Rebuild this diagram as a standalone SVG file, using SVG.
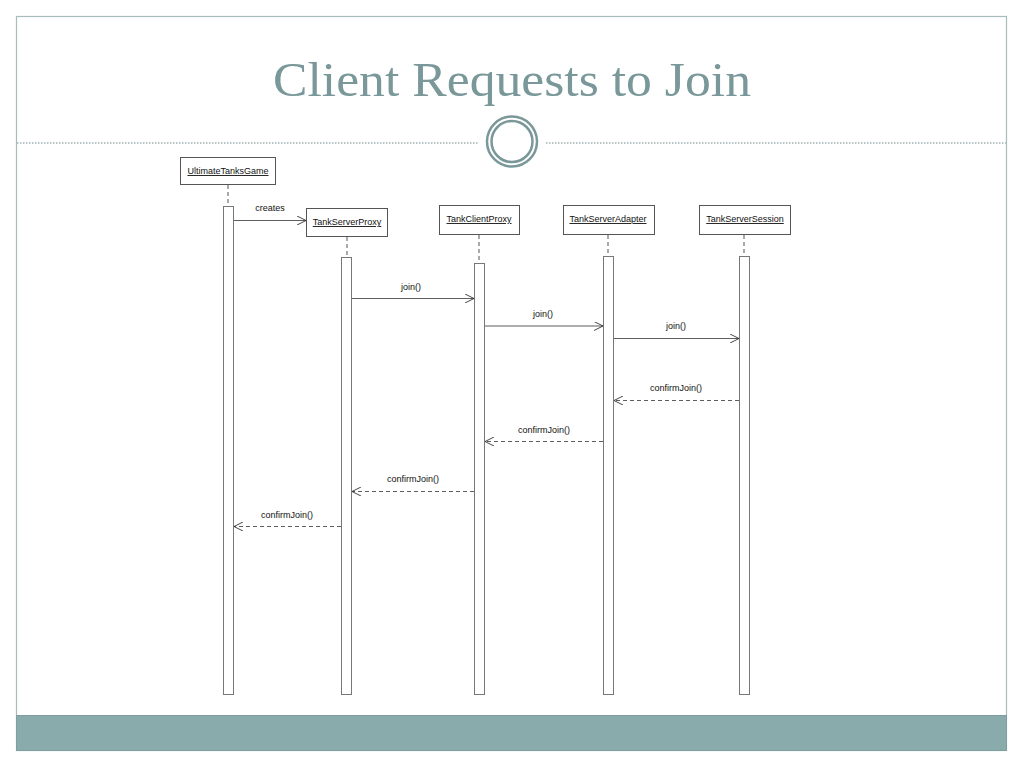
<svg xmlns="http://www.w3.org/2000/svg" width="1024" height="768" viewBox="0 0 1024 768">
<defs>
<style>
.frame{fill:#ffffff;stroke:#a9bcbc;stroke-width:1.2}
.band{fill:#8aabab;stroke:#7f9e9e;stroke-width:1}
.dots{stroke:#9fb4b4;stroke-width:1.5;stroke-dasharray:1.5 1.5;fill:none}
.ring{fill:none;stroke:#7a9899;stroke-width:2.5}
.title{font-family:"Liberation Serif","DejaVu Serif",serif;font-size:48px;fill:#7a9899}
.box{fill:#ffffff;stroke:#555;stroke-width:1}
.lbl{font-family:"Liberation Sans",Arial,sans-serif;font-size:9px;fill:#111;text-anchor:middle}
.name{text-decoration:underline}
.life{stroke:#555;stroke-width:1;stroke-dasharray:4 3;fill:none}
.act{fill:#ffffff;stroke:#777;stroke-width:1}
.msg{stroke:#333;stroke-width:0.8;fill:none}
.ret{stroke:#333;stroke-width:0.8;stroke-dasharray:4 3;fill:none}
</style>
<marker id="open" viewBox="0 0 10 10" refX="10" refY="5" markerWidth="9" markerHeight="9" markerUnits="userSpaceOnUse" orient="auto">
<path d="M0,0 L10,5 L0,10" fill="none" stroke="#333" stroke-width="1"/>
</marker>
</defs>
<rect width="1024" height="768" fill="#ffffff"/>
<rect class="frame" x="16.5" y="16.5" width="990" height="734"/>
<rect class="band" x="16.5" y="715.5" width="990" height="35"/>
<line class="dots" x1="17" y1="143" x2="478" y2="143"/>
<line class="dots" x1="546" y1="143" x2="1006" y2="143"/>
<circle class="ring" cx="512" cy="141.5" r="25"/>
<circle class="ring" cx="512" cy="141.5" r="20.5" stroke-width="1.5"/>
<text class="title" x="512" y="96" text-anchor="middle" textLength="478" lengthAdjust="spacingAndGlyphs">Client Requests to Join</text>

<g id="UltimateTanksGame">
<rect class="box" x="180.5" y="157.5" width="95" height="27"/>
<text class="lbl name" x="228" y="174">UltimateTanksGame</text>
<line class="life" x1="228" y1="185" x2="228" y2="206"/>
<rect class="act" x="223.5" y="206.5" width="10" height="488"/>
</g>
<g id="TankServerProxy">
<rect class="box" x="306.5" y="208.5" width="81" height="28"/>
<text class="lbl name" x="347" y="225">TankServerProxy</text>
<line class="life" x1="347" y1="237" x2="347" y2="257"/>
<rect class="act" x="341.5" y="257.5" width="10" height="437"/>
</g>
<g id="TankClientProxy">
<rect class="box" x="439.5" y="205.5" width="80" height="29"/>
<text class="lbl name" x="479" y="222">TankClientProxy</text>
<line class="life" x1="479" y1="235" x2="479" y2="263"/>
<rect class="act" x="474.5" y="263.5" width="10" height="431"/>
</g>
<g id="TankServerAdapter">
<rect class="box" x="563.5" y="205.5" width="91" height="29"/>
<text class="lbl name" x="608" y="222">TankServerAdapter</text>
<line class="life" x1="608" y1="235" x2="608" y2="256"/>
<rect class="act" x="603.5" y="256.5" width="10" height="438"/>
</g>
<g id="TankServerSession">
<rect class="box" x="699.5" y="205.5" width="91" height="29"/>
<text class="lbl name" x="745" y="222">TankServerSession</text>
<line class="life" x1="744" y1="235" x2="744" y2="256"/>
<rect class="act" x="739.5" y="256.5" width="10" height="438"/>
</g>

<g id="connectors">
<line class="msg" x1="234" y1="220.5" x2="306" y2="220.5" marker-end="url(#open)"/>
<text class="lbl" x="270" y="211">creates</text>
<line class="msg" x1="352" y1="298.5" x2="474" y2="298.5" marker-end="url(#open)"/>
<text class="lbl" x="411" y="290">join()</text>
<line class="msg" x1="485" y1="326" x2="603" y2="326" marker-end="url(#open)"/>
<text class="lbl" x="543" y="317">join()</text>
<line class="msg" x1="614" y1="338.5" x2="739" y2="338.5" marker-end="url(#open)"/>
<text class="lbl" x="676" y="329">join()</text>
<line class="ret" x1="739" y1="400.5" x2="614" y2="400.5" marker-end="url(#open)"/>
<text class="lbl" x="676" y="391">confirmJoin()</text>
<line class="ret" x1="603" y1="441.5" x2="485" y2="441.5" marker-end="url(#open)"/>
<text class="lbl" x="544" y="433">confirmJoin()</text>
<line class="ret" x1="474" y1="491.5" x2="352" y2="491.5" marker-end="url(#open)"/>
<text class="lbl" x="413" y="482">confirmJoin()</text>
<line class="ret" x1="341" y1="526.5" x2="234" y2="526.5" marker-end="url(#open)"/>
<text class="lbl" x="287" y="518">confirmJoin()</text>
</g>
</svg>
